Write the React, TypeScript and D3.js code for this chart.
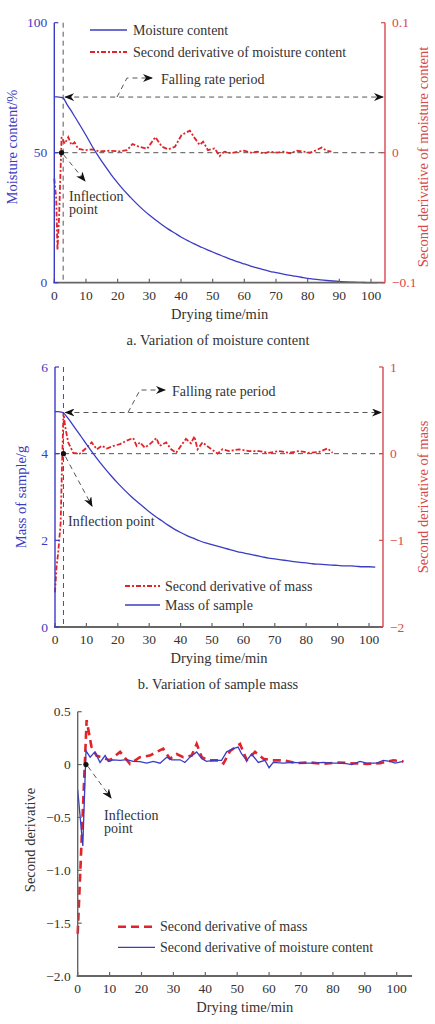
import * as d3 from "d3";
import React from "react";

// ---- panel a: moisture content (%) and its second derivative ----
const mcTime = [0, 1, 2, 2.8, 4, 6, 8, 10, 12, 14, 16, 18, 20, 22, 24, 26, 28, 30, 32, 34, 36, 38, 40, 42, 44, 46, 48, 50, 52, 54, 56, 58, 60, 62, 64, 66, 68, 70, 72, 74, 76, 78, 80, 82, 84, 86, 88, 90, 92, 94, 96, 98, 100, 102];
const mcValue = [71.5, 71.5, 71.3, 71, 68.6, 64.8, 60.8, 56.7, 52.4, 48.5, 44.9, 41.5, 38.4, 35.5, 32.9, 30.4, 28.1, 26.0, 24.1, 22.3, 20.6, 19.1, 17.6, 16.3, 15.0, 13.9, 12.8, 11.8, 10.8, 9.8, 8.9, 8.0, 7.2, 6.4, 5.7, 5.0, 4.4, 3.9, 3.4, 2.9, 2.5, 2.1, 1.7, 1.4, 1.1, 0.85, 0.65, 0.48, 0.33, 0.22, 0.13, 0.07, 0.03, 0];

const sdmTime = [0, 0.6, 1, 1.5, 2.3, 3.3, 4.4, 5.4, 6.4, 7.5, 9.6, 12.2, 14.2, 17.4, 20.5, 23, 24.7, 26.7, 29.3, 31.9, 34, 36, 38.1, 40.2, 42.8, 44.4, 45.9, 47, 48.5, 50.6, 52.2, 53.7, 55.8, 57.9, 60, 62.1, 64.1, 66.2, 68.3, 70.4, 72.5, 74.5, 76.6, 78.7, 80.8, 82.8, 84.4, 86, 87.5];
const sdmValue = [-0.02, -0.035, -0.075, -0.05, 0.012, 0.007, 0.012, 0.006, 0.008, 0.003, 0.002, 0.0025, 0.001, 0.0015, 0.001, 0.002, 0.0067, 0.0046, 0.003, 0.012, 0.0046, 0.0026, 0.0046, 0.0136, 0.017, 0.011, 0.006, 0.0085, 0.002, 0.0033, -0.0026, 0.0008, -0.0005, 0.0008, 0.0015, 0, 0.0008, -0.0005, 0.0008, 0, 0.0008, -0.0005, 0.0015, 0.0008, 0, 0.002, 0.004, 0.0015, 0.0008];

// ---- panel b: sample mass (g) and its second derivative ----
const massTime = [0, 1, 2, 2.7, 4, 6, 8, 10, 12, 14, 16, 18, 20, 22, 24, 26, 28, 30, 32, 34, 36, 38, 40, 42, 44, 46, 48, 50, 52, 54, 56, 58, 60, 62, 64, 66, 68, 70, 72, 74, 76, 78, 80, 82, 84, 86, 88, 90, 92, 94, 96, 98, 100, 102];
const massValue = [4.97, 4.97, 4.96, 4.94, 4.83, 4.63, 4.43, 4.22, 4.02, 3.83, 3.65, 3.48, 3.32, 3.17, 3.03, 2.9, 2.78, 2.66, 2.55, 2.45, 2.35, 2.26, 2.18, 2.11, 2.05, 1.99, 1.94, 1.9, 1.86, 1.82, 1.78, 1.74, 1.71, 1.68, 1.65, 1.62, 1.59, 1.57, 1.55, 1.53, 1.51, 1.49, 1.48, 1.46, 1.45, 1.44, 1.43, 1.42, 1.41, 1.41, 1.4, 1.39, 1.39, 1.38];

const sdMassTime = [0, 0.5, 1, 1.8, 2.2, 2.7, 3.2, 4.2, 5.8, 7.9, 10.1, 11.7, 13.3, 14.9, 16.5, 18.6, 20.7, 22.8, 24.9, 26, 27, 28.6, 30.2, 32.3, 33.3, 35.4, 37, 38.6, 40.1, 41.7, 43.3, 44.4, 45.4, 47, 49.1, 51.8, 53.3, 55.4, 58.6, 61.8, 65, 68.1, 71.3, 74.5, 77.7, 80.9, 84.1, 86.8, 88.4];
const sdMassValue = [-1.6, -1.3, -1.15, -0.8, -0.2, 0.47, 0.32, 0.13, 0.01, 0, 0.07, 0.13, 0.05, 0.09, 0.06, 0.09, 0.11, 0.15, 0.18, 0.09, 0.13, 0.07, 0.11, 0.18, 0.09, 0.13, 0.05, 0.01, 0.09, 0.17, 0.12, 0.2, 0.05, 0.13, 0.07, 0, 0.05, 0.03, 0.05, 0.03, 0.03, 0.01, 0.03, 0.01, 0.03, 0.01, 0.02, 0.06, 0.01];

// ---- panel c: both second derivatives together ----
const cMoistTime = [0, 1.6, 2.6, 3.9, 5.4, 7, 8.6, 9.6, 11.2, 13.3, 15.4, 17.4, 19.5, 21.6, 23.7, 25.8, 27.9, 29.5, 32.1, 33.6, 35.2, 37.3, 38.9, 40.4, 42.5, 45.1, 46.7, 48.8, 50.3, 51.4, 53, 54.5, 56.6, 58.7, 60, 61.3, 64.4, 67.6, 70.7, 73.9, 77, 80.1, 83.3, 85.9, 88.5, 90.6, 93.7, 95.8, 97.9, 99.5, 102.1];
const cMoistValue = [-0.24, -0.77, 0.13, 0.07, 0.12, 0.02, 0.085, 0.03, 0.045, 0.04, 0.047, 0.03, 0.028, 0.013, 0.03, 0.013, 0.07, 0.045, 0.045, 0.02, 0.07, 0.12, 0.055, 0.03, 0.04, 0.04, 0.12, 0.15, 0.165, 0.1, 0.04, 0.1, 0.02, 0.04, -0.03, 0.02, 0.013, 0.02, 0.013, 0.013, 0.02, 0.013, 0.013, 0, 0.03, 0.013, 0.013, 0.04, 0.03, 0.013, 0.03];

const cMassTime = [0, 2.8, 4.3, 5.9, 10.1, 13.3, 16.4, 19.5, 22.6, 26.8, 28.9, 31, 33.1, 35.7, 37.3, 38.9, 41, 44.6, 45.7, 47.8, 50.9, 53, 55.6, 58.2, 60.9, 64.4, 68.6, 72.8, 77, 81.2, 85.4, 90.6, 94.8, 99, 102.1];
const cMassValue = [-1.6, 0.42, 0.17, 0.085, 0.04, 0.12, 0.006, 0.07, 0.085, 0.15, 0.055, 0.1, 0.07, 0.085, 0.195, 0.07, 0.04, 0.04, 0.01, 0.13, 0.195, 0.04, 0.12, 0.055, 0.04, 0.04, 0.013, 0.02, 0.006, 0.02, 0.013, 0.006, 0.013, 0.04, 0.03];

const xTicks = [0, 10, 20, 30, 40, 50, 60, 70, 80, 90, 100];

const FONT = "Liberation Serif, Times New Roman, Times, serif";
const BLUE = "#3b3bc4";
const RED = "#e0242a";
const RED_AX = "#d8474c";
const GREY = "#666";
const TXT = "#333";
const FS = 13.5;
const FS_L = 14;
const FS_T = 14.5;

type Pt = [number, number];
const zip = (t: number[], v: number[]) => t.map((d, i) => [d, v[i]] as Pt);
const fmt = (v: number, digits = 0) =>
  (v < 0 ? "\u2212" : "") + Math.abs(v).toFixed(digits);

type Lin = d3.ScaleLinear<number, number>;

function YAxis({ y, x, ticks, color, labelColor, dir, digits = 0 }: { y: Lin; x: number; ticks: number[]; color: string; labelColor: string; dir: number; digits?: number }) {
  const [b, t] = y.range();
  return (
    <g>
      <line x1={x} x2={x} y1={t} y2={b} stroke={color} strokeWidth={1.4} />
      {ticks.map((v) => (
        <g key={v}>
          <line x1={x} x2={x + dir * 4} y1={y(v)} y2={y(v)} stroke={color} strokeWidth={1.2} />
          <text x={x - dir * 7} y={y(v)} dy="0.35em" textAnchor={dir > 0 ? "end" : "start"} fill={labelColor} fontSize={FS}>
            {v === 0 ? "0" : fmt(v, digits)}
          </text>
        </g>
      ))}
    </g>
  );
}

function XAxis({ x, y0, xEnd, title, caption }: { x: Lin; y0: number; xEnd: number; title: string; caption?: string }) {
  return (
    <g>
      <line x1={x(0) - 1} x2={xEnd} y1={y0} y2={y0} stroke={GREY} strokeWidth={1.8} />
      {xTicks.map((v) => (
        <g key={v}>
          <line x1={x(v)} x2={x(v)} y1={y0} y2={y0 - 4} stroke={GREY} strokeWidth={1.2} />
          <text x={x(v)} y={y0 + 17} textAnchor="middle" fill={TXT} fontSize={FS}>{v}</text>
        </g>
      ))}
      <text x={(x(0) + xEnd) / 2} y={y0 + 36} textAnchor="middle" fill={TXT} fontSize={FS_T}>{title}</text>
      {caption && (
        <text x={218} y={y0 + 62} textAnchor="middle" fill={TXT} fontSize={FS_T}>{caption}</text>
      )}
    </g>
  );
}

const dashGrey = { stroke: "#555", strokeWidth: 1, strokeDasharray: "5,4", fill: "none" } as const;

function PanelA() {
  const x = d3.scaleLinear().domain([0, 100]).range([54.3, 371]);
  const y = d3.scaleLinear().domain([0, 100]).range([282.7, 22.7]);
  const y2 = d3.scaleLinear().domain([-0.1, 0.1]).range([282.7, 22.7]);
  const xEnd = 385;
  const line = d3.line<Pt>().x((d) => x(d[0])).y((d) => y(d[1])).curve(d3.curveMonotoneX);
  const line2 = d3.line<Pt>().x((d) => x(d[0])).y((d) => y2(d[1]));
  const xi = x(2.8);
  const arrowY = y(71.4);
  return (
    <g>
      <line x1={xi} x2={xi} y1={22.7} y2={282.7} {...dashGrey} />
      <line x1={x(0)} x2={xEnd} y1={y2(0)} y2={y2(0)} {...dashGrey} />
      <line x1={xi + 2} x2={xEnd - 2} y1={arrowY} y2={arrowY} {...dashGrey} markerStart="url(#arr)" markerEnd="url(#arr)" />
      <polyline points={`117,${arrowY} 127,78 152,78`} {...dashGrey} markerEnd="url(#arr)" />
      <text x={161} y={84} fill={TXT} fontSize={FS_L}>Falling rate period</text>
      <path d={line2(zip(sdmTime, sdmValue)) ?? ""} fill="none" stroke={RED} strokeWidth={1.8} strokeDasharray="5,2,2,2" />
      <path d={line(zip(mcTime, mcValue)) ?? ""} fill="none" stroke={BLUE} strokeWidth={1.3} />
      <circle cx={x(2.3)} cy={y2(0)} r={2.6} fill="#111" />
      <line x1={x(2.3) + 2} y1={y2(0) + 2} x2={85} y2={181} {...dashGrey} markerEnd="url(#arr)" />
      <text x={69} y={201} fill={TXT} fontSize={FS_L}>Inflection</text>
      <text x={69} y={214} fill={TXT} fontSize={FS_L}>point</text>
      <XAxis x={x} y0={282.7} xEnd={xEnd} title="Drying time/min" caption="a. Variation of moisture content" />
      <YAxis y={y} x={54.3} ticks={[0, 50, 100]} color={BLUE} labelColor={BLUE} dir={1} />
      <YAxis y={y2} x={xEnd} ticks={[-0.1, 0, 0.1]} color={RED_AX} labelColor={RED_AX} dir={-1} digits={1} />
      <text transform="translate(17,147) rotate(-90)" textAnchor="middle" fill={BLUE} fontSize={FS_T}>Moisture content/%</text>
      <text transform="translate(428,157) rotate(-90)" textAnchor="middle" fill={RED_AX} fontSize={FS_T}>Second derivative of moisture content</text>
      <line x1={90} x2={127} y1={30} y2={30} stroke={BLUE} strokeWidth={1.3} />
      <text x={133} y={34.5} fill={TXT} fontSize={FS_L}>Moisture content</text>
      <line x1={90} x2={127} y1={52} y2={52} stroke={RED} strokeWidth={1.8} strokeDasharray="5,2,2,2" />
      <text x={133} y={56.5} fill={TXT} fontSize={FS_L}>Second derivative of moisture content</text>
    </g>
  );
}

function PanelB() {
  const x = d3.scaleLinear().domain([0, 100]).range([55, 369]);
  const y = d3.scaleLinear().domain([0, 6]).range([627, 367]);
  const y2 = d3.scaleLinear().domain([-2, 1]).range([627, 367]);
  const xEnd = 383;
  const line = d3.line<Pt>().x((d) => x(d[0])).y((d) => y(d[1])).curve(d3.curveMonotoneX);
  const line2 = d3.line<Pt>().x((d) => x(d[0])).y((d) => y2(d[1]));
  const xi = x(2.7);
  const arrowY = y(4.95);
  return (
    <g>
      <line x1={xi} x2={xi} y1={367} y2={627} {...dashGrey} />
      <line x1={x(0)} x2={xEnd} y1={y2(0)} y2={y2(0)} {...dashGrey} />
      <line x1={xi + 2} x2={xEnd - 2} y1={arrowY} y2={arrowY} {...dashGrey} markerStart="url(#arr)" markerEnd="url(#arr)" />
      <polyline points={`128,${arrowY} 140,390 165,390`} {...dashGrey} markerEnd="url(#arr)" />
      <text x={172} y={396} fill={TXT} fontSize={FS_L}>Falling rate period</text>
      <path d={line2(zip(sdMassTime, sdMassValue)) ?? ""} fill="none" stroke={RED} strokeWidth={1.8} strokeDasharray="5,2,2,2" />
      <path d={line(zip(massTime, massValue)) ?? ""} fill="none" stroke={BLUE} strokeWidth={1.3} />
      <circle cx={xi} cy={y2(0)} r={2.6} fill="#111" />
      <line x1={xi + 2} y1={y2(0) + 3} x2={92} y2={506} {...dashGrey} markerEnd="url(#arr)" />
      <text x={68} y={526} fill={TXT} fontSize={FS_L}>Inflection point</text>
      <XAxis x={x} y0={627} xEnd={xEnd} title="Drying time/min" caption="b. Variation of sample mass" />
      <YAxis y={y} x={55} ticks={[0, 2, 4, 6]} color={BLUE} labelColor={BLUE} dir={1} />
      <YAxis y={y2} x={xEnd} ticks={[-2, -1, 0, 1]} color={RED_AX} labelColor={RED_AX} dir={-1} />
      <text transform="translate(26,497) rotate(-90)" textAnchor="middle" fill={BLUE} fontSize={FS_T}>Mass of sample/g</text>
      <text transform="translate(428,497) rotate(-90)" textAnchor="middle" fill={RED_AX} fontSize={FS_T}>Second derivative of mass</text>
      <line x1={125} x2={160} y1={586} y2={586} stroke={RED} strokeWidth={1.8} strokeDasharray="5,2,2,2" />
      <text x={165} y={590.5} fill={TXT} fontSize={FS_L}>Second derivative of mass</text>
      <line x1={125} x2={160} y1={605} y2={605} stroke={BLUE} strokeWidth={1.3} />
      <text x={165} y={609.5} fill={TXT} fontSize={FS_L}>Mass of sample</text>
    </g>
  );
}

function PanelC() {
  const x = d3.scaleLinear().domain([0, 100]).range([77.7, 396.7]);
  const y = d3.scaleLinear().domain([-2, 0.5]).range([976, 711.7]);
  const xEnd = 412;
  const line = d3.line<Pt>().x((d) => x(d[0])).y((d) => y(d[1]));
  return (
    <g>
      <path d={line(zip(cMassTime, cMassValue)) ?? ""} fill="none" stroke={RED} strokeWidth={2.6} strokeDasharray="8,5" />
      <path d={line(zip(cMoistTime, cMoistValue)) ?? ""} fill="none" stroke={BLUE} strokeWidth={1.3} />
      <circle cx={x(2.6)} cy={y(0)} r={2.6} fill="#111" />
      <line x1={x(2.6) + 2} y1={y(0) + 2} x2={111} y2={798} {...dashGrey} markerEnd="url(#arr)" />
      <text x={104} y={820} fill={TXT} fontSize={FS_L}>Inflection</text>
      <text x={104} y={833} fill={TXT} fontSize={FS_L}>point</text>
      <XAxis x={x} y0={976} xEnd={xEnd} title="Drying time/min" />
      <YAxis y={y} x={77.7} ticks={[-2, -1.5, -1, -0.5, 0, 0.5]} color={GREY} labelColor={TXT} dir={1} digits={1} />
      <text transform="translate(35,840) rotate(-90)" textAnchor="middle" fill={TXT} fontSize={FS_T}>Second derivative</text>
      <line x1={118} x2={155} y1={926.7} y2={926.7} stroke={RED} strokeWidth={2.6} strokeDasharray="8,5" />
      <text x={160} y={931} fill={TXT} fontSize={FS_L}>Second derivative of mass</text>
      <line x1={118} x2={155} y1={947.3} y2={947.3} stroke={BLUE} strokeWidth={1.3} />
      <text x={160} y={951.5} fill={TXT} fontSize={FS_L}>Second derivative of moisture content</text>
    </g>
  );
}

export default function App() {
  return (
    <svg width={435} height={1024} style={{ position: "absolute", left: 0, top: 0, background: "#fff", fontFamily: FONT }}>
      <defs>
        <marker id="arr" viewBox="0 0 10 8" refX={9} refY={4} markerWidth={10} markerHeight={8} markerUnits="userSpaceOnUse" orient="auto-start-reverse">
          <path d="M0,0 L10,4 L0,8 L3,4 Z" fill="#111" />
        </marker>
      </defs>
      <PanelA />
      <PanelB />
      <PanelC />
    </svg>
  );
}
